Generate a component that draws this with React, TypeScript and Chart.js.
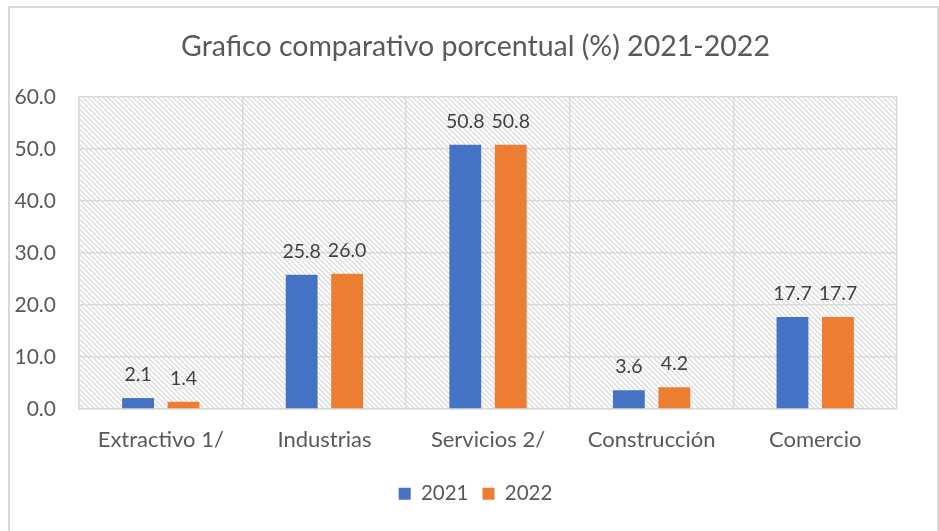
import React, { useEffect, useRef } from "react";
import { Chart, registerables } from "chart.js";

Chart.register(...registerables);

const categories = ["Extractivo 1/", "Industrias", "Servicios 2/", "Construcción", "Comercio"];
const seriesNames = ["2021", "2022"];
const values2021 = [2.1, 25.8, 50.8, 3.6, 17.7];
const values2022 = [1.4, 26.0, 50.8, 4.2, 17.7];
const yMin = 0;
const yMax = 60;
const yStep = 10;
const titleText = "Grafico comparativo porcentual (%) 2021-2022";

const FONT = "Lato, 'Open Sans', sans-serif";
const BLUE = "#4472C4";
const ORANGE = "#ED7D31";
const TEXT = "#595959";
const GRID = "#d9d9d9";

function makeHatch(): CanvasPattern | string {
  const c = document.createElement("canvas");
  const n = 5;
  c.width = n;
  c.height = n;
  const g = c.getContext("2d");
  if (!g) return "#f2f2f2";
  g.fillStyle = "#ffffff";
  g.fillRect(0, 0, n, n);
  g.fillStyle = "#e0e0e0";
  for (let y = 0; y < n; y++) {
    for (let x = 0; x < n; x++) {
      if ((((x - y) % n) + n) % n < 2) g.fillRect(x, y, 1, 1);
    }
  }
  const p = g.createPattern(c, "repeat");
  return p || "#f2f2f2";
}

const hatchPlugin = {
  id: "hatchBg",
  beforeDraw(chart: any) {
    const { ctx, chartArea } = chart;
    if (!chartArea) return;
    ctx.save();
    ctx.fillStyle = makeHatch();
    ctx.fillRect(chartArea.left, chartArea.top, chartArea.right - chartArea.left, chartArea.bottom - chartArea.top);
    ctx.restore();
  },
};

const valueLabelPlugin = {
  id: "valueLabels",
  afterDatasetsDraw(chart: any) {
    const { ctx } = chart;
    ctx.save();
    ctx.font = `19.5px ${FONT}`;
    ctx.fillStyle = "#404040";
    ctx.textAlign = "center";
    ctx.textBaseline = "alphabetic";
    chart.data.datasets.forEach((ds: any, i: number) => {
      const meta = chart.getDatasetMeta(i);
      meta.data.forEach((el: any, j: number) => {
        const v = ds.data[j] as number;
        ctx.fillText(v.toFixed(1), el.x, el.y - 17);
      });
    });
    ctx.restore();
  },
};

export default function App() {
  const ref = useRef<HTMLCanvasElement | null>(null);

  useEffect(() => {
    if (!ref.current) return;
    const chart = new Chart(ref.current, {
      type: "bar",
      data: {
        labels: categories,
        datasets: [
          { label: seriesNames[0], data: values2021, backgroundColor: BLUE, borderWidth: 0, yAxisID: "y" },
          { label: seriesNames[1], data: values2022, backgroundColor: ORANGE, borderWidth: 0, yAxisID: "y" },
        ],
      },
      options: {
        animation: false,
        responsive: false,
        maintainAspectRatio: false,
        devicePixelRatio: 1,
        datasets: { bar: { categoryPercentage: 0.556, barPercentage: 0.7 } },
        layout: { padding: { left: 12, right: 0, top: 0, bottom: 17 } },
        plugins: {
          title: {
            display: true,
            text: titleText,
            color: TEXT,
            font: { family: FONT, size: 28.5, weight: "normal" as any, lineHeight: 1.2 },
            padding: { top: 30, bottom: 32.8 },
          },
          legend: {
            display: true,
            position: "bottom",
            labels: {
              color: TEXT,
              font: { family: FONT, size: 20.5 },
              boxWidth: 12,
              boxHeight: 12,
              padding: 14,
            },
          },
          tooltip: { enabled: false },
        },
        scales: {
          x: {
            afterFit(scale: any) {
              scale.height = 60.5;
            },
            grid: { display: true, color: GRID, lineWidth: 1.5, drawTicks: false, offset: true },
            border: { display: true, color: GRID, width: 1.5 },
            ticks: { color: TEXT, font: { family: FONT, size: 22 }, padding: 18, maxRotation: 0 },
          },
          y: {
            min: yMin,
            max: yMax,
            position: "left",
            afterFit(scale: any) {
              scale.width = 67;
            },
            grid: { color: GRID, lineWidth: 1.5, drawTicks: false },
            border: { display: true, color: GRID, width: 1.5 },
            ticks: {
              stepSize: yStep,
              color: TEXT,
              font: { family: FONT, size: 21 },
              padding: 23,
              callback: (v: any) => Number(v).toFixed(1),
            },
          },
          yRightSpace: {
            position: "right",
            min: yMin,
            max: yMax,
            afterFit(scale: any) {
              scale.width = 42;
            },
            grid: { display: false, drawOnChartArea: false },
            border: { display: false },
            ticks: { display: false },
          },
        },
      },
      plugins: [hatchPlugin, valueLabelPlugin],
    });
    return () => chart.destroy();
  }, []);

  return (
    <div
      style={{
        position: "fixed",
        left: 0,
        top: 0,
        width: 939,
        height: 531,
        overflow: "hidden",
        background: "#ffffff",
      }}
    >
      <div
        style={{
          position: "absolute",
          left: 8,
          top: 6,
          width: 931,
          height: 560,
          boxSizing: "border-box",
          borderLeft: "2px solid #d9d9d9",
          borderTop: "2px solid #d9d9d9",
          borderRight: "2px solid #d9d9d9",
        }}
      />
      <canvas ref={ref} width={939} height={531} style={{ position: "absolute", left: 0, top: 0, width: 939, height: 531 }} />
    </div>
  );
}
